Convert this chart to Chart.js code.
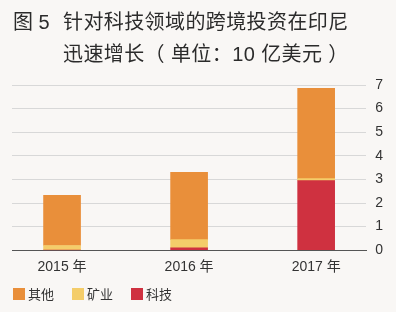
<!DOCTYPE html>
<html>
<head>
<meta charset="utf-8">
<script src="https://cdn.jsdelivr.net/npm/chart.js@4.4.1/dist/chart.umd.min.js"></script>
<style>
    html, body { margin: 0; padding: 0; background: #f9f7f5; }
    #wrap { position: relative; width: 396px; height: 312px; }
    #c { position: absolute; left: 0; top: 0; }
    #title { position: absolute; left: 13px; top: 6px; font: 20px "Liberation Sans", "Noto Sans CJK SC", sans-serif; letter-spacing: 0.4px; color: #2b2b2b; line-height: 32px; white-space: pre; }
    #title .num { display: inline-block; width: 50px; letter-spacing: 0; }
    #title .l2 { padding-left: 50px; }
    #legend { position: absolute; left: 13px; top: 284px; font: 13px "Liberation Sans", "Noto Sans CJK SC", sans-serif; color: #333; display: flex; }
    #legend .item { display: flex; align-items: center; margin-right: 18px; }
    #legend .box { width: 12px; height: 12px; margin-right: 3px; }
</style>
</head>
<body>
<div id="wrap">
    <canvas id="c" width="396" height="312"></canvas>
    <div id="title"><div><span class="num">图 5</span>针对科技领域的跨境投资在印尼</div><div class="l2">迅速增长（ 单位：10 亿美元 ）</div></div>
    <div id="legend"></div>
</div>
<script>
// data (10 亿美元)
const years = ['2015 年', '2016 年', '2017 年'];
const tech = [0, 0.1, 2.95];
const mining = [0.2, 0.35, 0.08];
const other = [2.12, 2.85, 3.83];
const yTicks = [0, 1, 2, 3, 4, 5, 6, 7];

const FONT = '"Liberation Sans", "Noto Sans CJK SC", sans-serif';

function points(arr){
    return arr.map((v, i) => ({ x: i, y: v }));
}

function bar(label, arr, color){
    return { label: label, data: points(arr), backgroundColor: color, barThickness: 37, borderWidth: 0 };
}

const chart = new Chart(document.getElementById('c').getContext('2d'), {
    type: 'bar',
    data: {
        datasets: [
            bar('科技', tech, '#cf3140'),
            bar('矿业', mining, '#f4cd6a'),
            bar('其他', other, '#e98f3a')
        ]
    },
    options: {
        responsive: false,
        animation: false,
        layout: { padding: { top: 85, right: 4, left: 12, bottom: 27 } },
        scales: {
            x: {
                type: 'linear', min: -0.394, max: 2.394, stacked: true, offset: false,
                grid: { display: false, drawTicks: false },
                border: { color: '#555', width: 1 },
                afterBuildTicks: s => { s.ticks = years.map((_, i) => ({ value: i })); },
                ticks: { callback: v => years[v], color: '#333', font: { size: 14, family: FONT }, padding: 9, maxRotation: 0, autoSkip: false }
            },
            y: {
                position: 'right', stacked: true, min: 0, max: 7,
                afterBuildTicks: s => { s.ticks = yTicks.map(v => ({ value: v })); },
                grid: { color: '#d8d8d8', drawTicks: false },
                border: { display: false },
                ticks: { padding: 9, color: '#333', font: { size: 14, family: FONT } }
            }
        },
        plugins: {
            legend: { display: false },
            tooltip: { enabled: false }
        }
    }
});

// legend in html, top-to-bottom stack order
const legend = document.getElementById('legend');
chart.data.datasets.slice().reverse().forEach(ds => {
    const item = document.createElement('div');
    item.className = 'item';
    item.innerHTML = '<span class="box" style="background:' + ds.backgroundColor + '"></span>' + ds.label;
    legend.appendChild(item);
});
</script>
</body>
</html>
